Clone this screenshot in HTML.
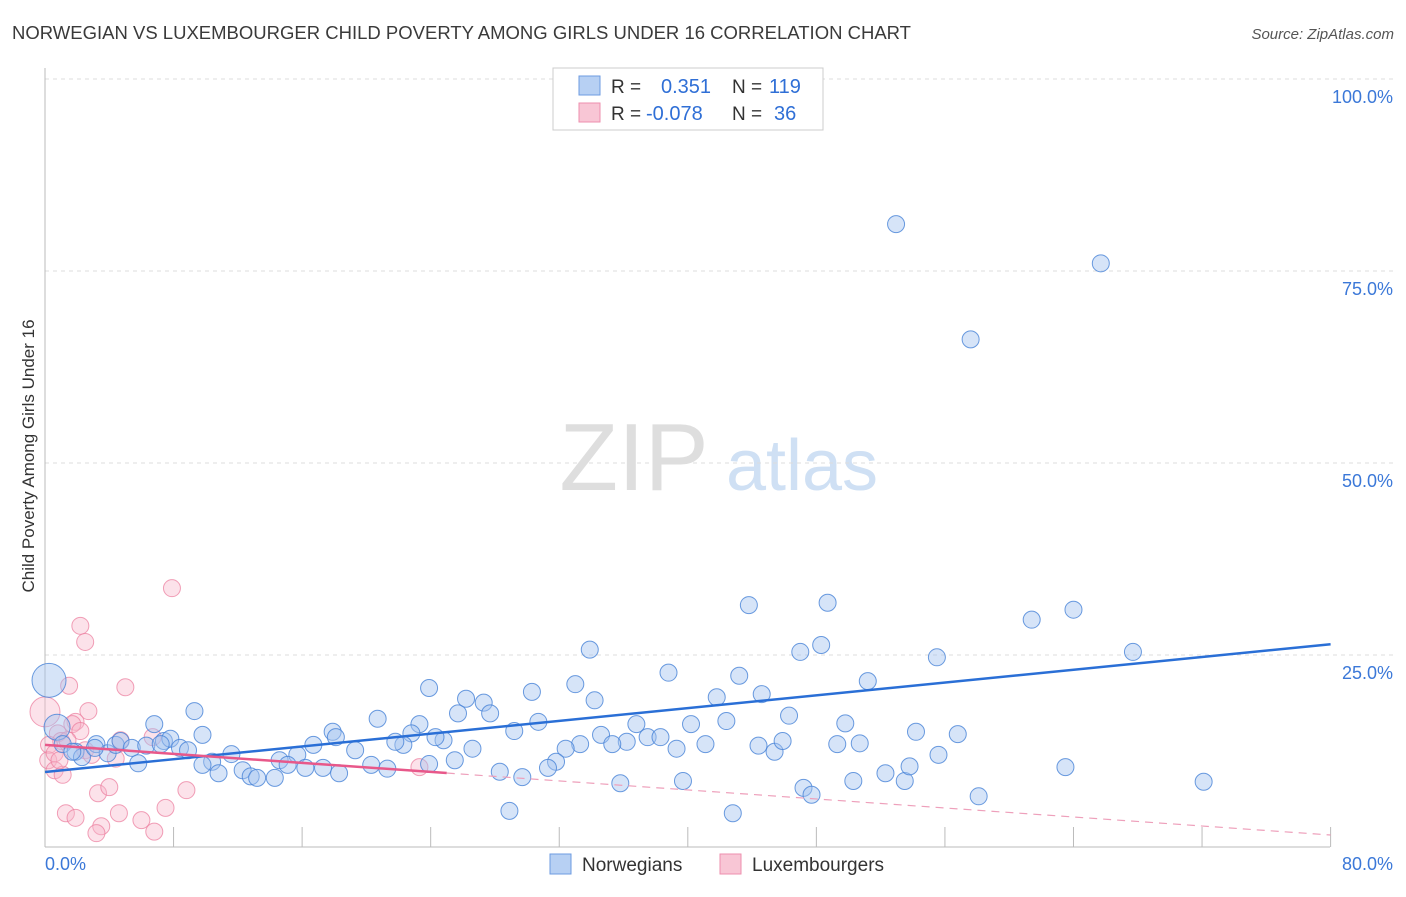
<!DOCTYPE html>
<html><head><meta charset="utf-8">
<style>
body{margin:0;background:#fff;font-family:"Liberation Sans",sans-serif;}
svg text{font-family:"Liberation Sans",sans-serif;}
</style></head>
<body>
<svg id="chart" width="1406" height="892" xmlns="http://www.w3.org/2000/svg">
<text x="12" y="39" font-size="18" fill="#3a3a3a" textLength="899" lengthAdjust="spacingAndGlyphs">NORWEGIAN VS LUXEMBOURGER CHILD POVERTY AMONG GIRLS UNDER 16 CORRELATION CHART</text>
<text x="1394" y="39" font-size="15" fill="#555" font-style="italic" text-anchor="end">Source: ZipAtlas.com</text>
<g>
<text x="634" y="490" font-size="96" fill="#dedede" text-anchor="middle" font-family="Liberation Serif, serif">ZIP</text>
<text x="802" y="490" font-size="72" fill="#cfe0f4" text-anchor="middle">atlas</text>
</g>
<g id="grid"></g>
<g id="axes"></g>
<g id="pts"></g>
<g id="trend"></g>
<text transform="translate(34,456) rotate(-90)" font-size="17" fill="#333" text-anchor="middle">Child Poverty Among Girls Under 16</text>
<g>
<rect x="553" y="68" width="270" height="62" fill="#fff" stroke="#ccc"/>
<rect x="579" y="76" width="21" height="19" fill="#b7d0f3" stroke="#6d9be0"/>
<rect x="579" y="103" width="21" height="19" fill="#f8c6d5" stroke="#ee8fae"/>
<text x="611" y="93" font-size="19" fill="#333">R =</text>
<text x="661" y="93" font-size="20" fill="#2f6fd6">0.351</text>
<text x="732" y="93" font-size="19" fill="#333">N =</text>
<text x="769" y="93" font-size="20" fill="#2f6fd6">119</text>
<text x="611" y="120" font-size="19" fill="#333">R =</text>
<text x="646" y="120" font-size="20" fill="#2f6fd6">-0.078</text>
<text x="732" y="120" font-size="19" fill="#333">N =</text>
<text x="774" y="120" font-size="20" fill="#2f6fd6">36</text>
</g>
<g>
<rect x="550" y="854" width="21" height="20" fill="#b7d0f3" stroke="#6d9be0"/>
<text x="582" y="871" font-size="19" fill="#333">Norwegians</text>
<rect x="720" y="854" width="21" height="20" fill="#f8c6d5" stroke="#ee8fae"/>
<text x="752" y="871" font-size="19" fill="#333">Luxembourgers</text>
</g>
</svg>
<script>
const yTicks=[25,50,75,100];
const yTickLabels=["25.0%","50.0%","75.0%","100.0%"];
const xTicks=[0,8,16,24,32,40,48,56,64,72,80];
const xEndLabels=["0.0%","80.0%"];
const blueX=[52.96,65.7,57.6,43.8,48.7,64.0,61.4,33.9,47.0,48.3,55.5,67.7,38.8,43.2,51.2,23.9,33.0,30.3,34.2,26.2,27.3,25.7,27.7,9.3,6.8,20.7,23.3,17.9,29.2,30.7,34.6,40.2,41.8,44.6,46.3,42.4,49.8,54.2,56.8,36.8,37.5,38.3,36.2,35.3,33.3,32.4,31.8,31.3,26.6,24.8,24.3,22.8,22.3,21.8,19.3,18.1,16.7,15.7,14.6,15.1,11.6,10.4,9.8,10.8,12.3,12.8,13.2,14.3,16.2,17.3,18.3,20.3,21.3,23.9,25.5,28.3,29.7,28.9,35.8,39.7,42.8,47.2,47.7,50.3,52.3,53.5,53.8,55.6,58.1,63.5,72.1,39.3,41.1,44.4,45.4,45.9,49.3,50.7,0.25,0.75,1.1,1.9,2.3,3.2,3.9,4.4,4.7,5.4,5.8,6.3,7.4,7.8,8.4,8.9,9.8,1.7,3.1,7.2];
const blueY=[81.1,76.0,66.1,31.5,31.8,30.9,29.6,25.7,25.4,26.3,24.7,25.4,22.7,22.3,21.6,20.7,21.2,20.2,19.1,19.3,18.8,17.4,17.4,17.7,16.0,16.7,16.0,15.0,15.1,16.3,14.6,16.0,19.5,19.9,17.1,16.4,16.1,15.0,14.7,16.0,14.3,14.3,13.7,13.4,13.4,12.8,11.1,10.3,12.8,13.9,14.3,14.8,13.3,13.7,12.6,14.3,13.3,12.0,11.3,10.7,12.1,11.1,10.7,9.6,10.0,9.2,9.0,9.0,10.3,10.3,9.6,10.7,10.2,10.8,11.3,9.8,9.1,4.7,8.3,8.6,4.4,7.7,6.8,8.6,9.6,8.6,10.5,12.0,6.6,10.4,8.5,12.8,13.4,13.2,12.4,13.8,13.4,13.5,21.7,15.6,13.4,12.4,11.7,13.4,12.2,13.3,13.8,12.9,10.9,13.2,13.8,14.1,12.9,12.6,14.6,12.4,12.9,13.4];
const pinkX=[7.9,2.2,2.5,1.5,5.0,2.7,0,1.9,1.7,0.8,1.0,0.25,0.2,0.6,1.1,2.2,4.7,6.7,4.4,3.3,4.0,1.3,1.9,3.5,3.2,4.6,6.0,7.5,8.8,6.8,23.3,0.6,1.4,2.5,0.9,2.9];
const pinkY=[33.7,28.8,26.7,21.0,20.8,17.7,17.6,16.3,16.0,14.8,13.8,13.3,11.3,10.0,9.4,15.1,13.9,14.3,11.5,7.0,7.8,4.4,3.8,2.7,1.8,4.4,3.5,5.1,7.4,2.0,10.4,12.2,13.9,12.6,11.3,12.0];
const blueTrend=[9.77,26.4];
const pinkTrend=[13.3,1.56];
const pinkSolidEnd=25;

const NS="http://www.w3.org/2000/svg";
const X=v=>45+v*16.07, Y=v=>847-v*7.68;
function mk(tag,attrs,parent){const e=document.createElementNS(NS,tag);for(const k in attrs)e.setAttribute(k,attrs[k]);document.getElementById(parent).appendChild(e);return e;}
yTicks.forEach((t,i)=>{
  const g=mk('line',{x1:45,x2:1393,y1:Y(t),y2:Y(t),stroke:'#ddd','stroke-dasharray':'4,4'},'grid');
  
  
  const l=mk('text',{x:1393,y:Y(t)+24,'font-size':18,fill:'#3b78d8','text-anchor':'end'},'axes');
  l.textContent=yTickLabels[i];
  
  
});
const gtop=mk('line',{x1:45,x2:1393,y1:79,y2:79,stroke:'#ddd','stroke-dasharray':'4,4'},'grid');


const ya=mk('line',{x1:45,x2:45,y1:68,y2:847,stroke:'#bbb'},'axes');


const xa=mk('line',{x1:45,x2:1330,y1:847,y2:847,stroke:'#bbb'},'axes');


xTicks.forEach(t=>{
  const k=mk('line',{x1:X(t),x2:X(t),y1:827,y2:847,stroke:'#bbb'},'axes');
  
  
});
const xl0=mk('text',{x:45,y:870,'font-size':18,fill:'#3b78d8'},'axes');xl0.textContent=xEndLabels[0];


const xl1=mk('text',{x:1393,y:870,'font-size':18,fill:'#3b78d8','text-anchor':'end'},'axes');xl1.textContent=xEndLabels[1];


pinkX.forEach((x,i)=>{
  const c=mk('circle',{cx:X(x),cy:Y(pinkY[i]),r:(i==6?15:8.5),fill:'rgba(248,182,202,0.4)',stroke:'rgba(236,128,160,0.75)','stroke-width':1},'pts');
  
  
});
blueX.forEach((x,i)=>{
  const r=(i==98?17:(i==99?13:8.5));
  const c=mk('circle',{cx:X(x),cy:Y(blueY[i]),r:r,fill:'rgba(164,196,240,0.45)',stroke:'rgba(70,130,215,0.8)','stroke-width':1},'pts');
  
  
});
const bt=mk('line',{x1:X(0),y1:Y(blueTrend[0]),x2:X(80),y2:Y(blueTrend[1]),stroke:'#2a6fd6','stroke-width':2.5},'trend');


const pAt=x=>pinkTrend[0]+(pinkTrend[1]-pinkTrend[0])*x/80;
const ps=mk('line',{x1:X(0),y1:Y(pAt(0)),x2:X(pinkSolidEnd),y2:Y(pAt(pinkSolidEnd)),stroke:'#e8588a','stroke-width':2.5},'trend');


const pd=mk('line',{x1:X(pinkSolidEnd),y1:Y(pAt(pinkSolidEnd)),x2:X(80),y2:Y(pAt(80)),stroke:'#eea0bb','stroke-width':1.2,'stroke-dasharray':'8,6'},'trend');


</script>
</body></html>
